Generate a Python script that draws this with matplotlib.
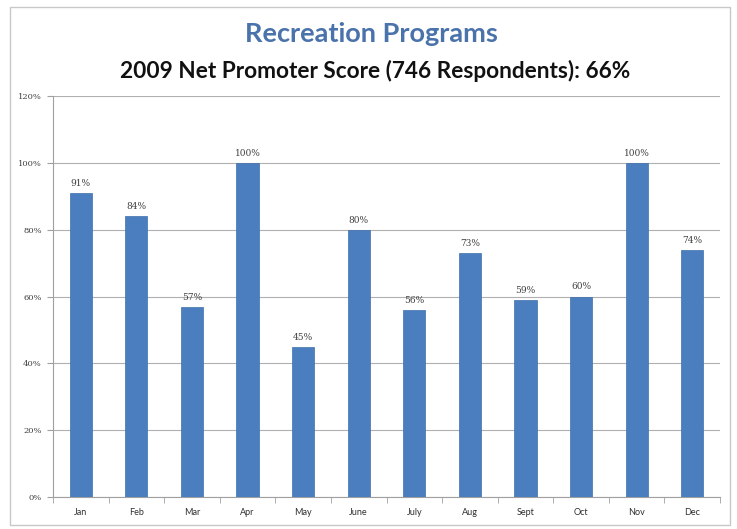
import matplotlib
matplotlib.use("Agg")
import matplotlib.pyplot as plt
from matplotlib.patches import Rectangle

months = ["Jan", "Feb", "Mar", "Apr", "May", "June", "July", "Aug", "Sept", "Oct", "Nov", "Dec"]
scores = [91, 84, 57, 100, 45, 80, 56, 73, 59, 60, 100, 74]
y_ticks = [0, 20, 40, 60, 80, 100, 120]

W, H = 737, 529
fig = plt.figure(figsize=(W / 100, H / 100), dpi=100)
fig.patch.set_facecolor("white")

# chart frame
fig.patches.append(Rectangle((10 / W, 4 / H), 720 / W, 518 / H, transform=fig.transFigure,
                             fill=False, edgecolor="#c8c8c8", linewidth=1.0))

ax = fig.add_axes([53 / W, (H - 497) / H, (720 - 53) / W, (497 - 96) / H])
x = list(range(len(months)))
ax.bar(x, scores, width=0.4, color="#4a7ebe", edgecolor="#3f70ad", linewidth=0.5, zorder=3)
for xi, v in zip(x, scores):
    ax.text(xi, v + 1.5, f"{v}%", ha="center", va="bottom", fontsize=6.5,
            family="DejaVu Serif", color="#404040")

ax.set_xlim(-0.5, len(months) - 0.5)
ax.set_ylim(0, 120)
ax.set_yticks(y_ticks)
ax.set_yticklabels([f"{t}%" for t in y_ticks], family="DejaVu Serif", fontsize=6, color="#404040")
ax.set_xticks(x)
ax.set_xticklabels(months, fontsize=6.5, family="Lato", color="#303030")
ax.set_xticks([i - 0.5 for i in range(len(months) + 1)], minor=True)
ax.tick_params(axis="x", which="major", length=0, pad=8)
ax.tick_params(axis="x", which="minor", length=4, color="#a0a0a0")
ax.tick_params(axis="y", length=4, color="#a0a0a0", pad=4)
ax.yaxis.grid(True, color="#b0b0b0", linewidth=0.8, zorder=0)
for s in ["top", "right"]:
    ax.spines[s].set_visible(False)
ax.spines["left"].set_color("#a0a0a0")
ax.spines["bottom"].set_color("#a0a0a0")

fig.text(371 / W, 1 - 34 / H, "Recreation Programs", ha="center", va="center",
         fontsize=19.5, family="Lato", fontweight="bold", color="#4a72ab")
fig.text(375 / W, 1 - 71 / H, "2009 Net Promoter Score (746 Respondents): 66%", ha="center",
         va="center", fontsize=16.3, family="Lato", fontweight="bold", color="#111111")

fig.savefig("out.png", dpi=100, facecolor="white")
